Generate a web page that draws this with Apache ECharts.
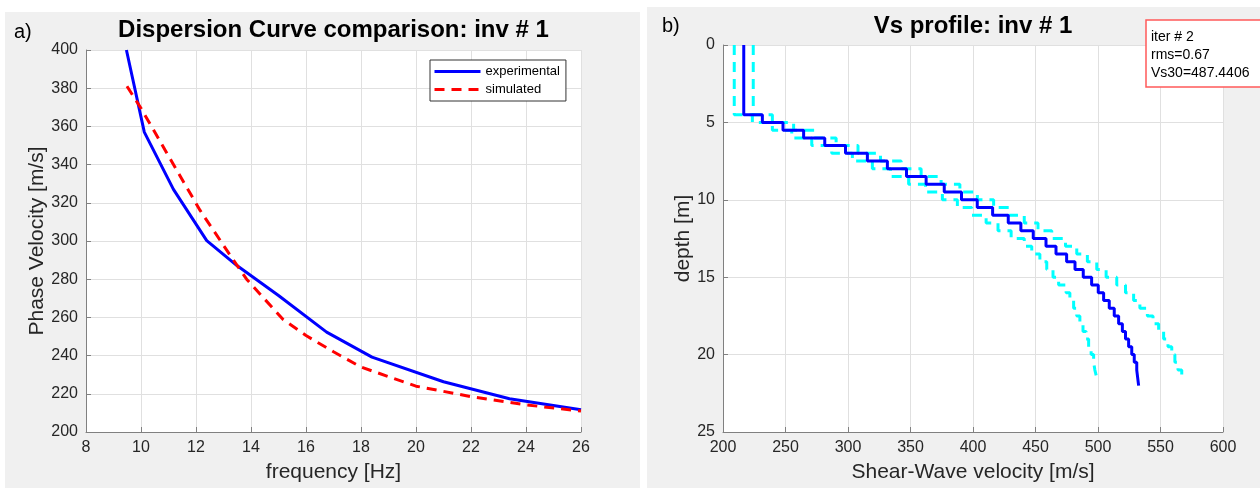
<!DOCTYPE html>
<html><head><meta charset="utf-8">
<script src="https://cdn.jsdelivr.net/npm/echarts@6/dist/echarts.min.js"></script>
<style>html,body{margin:0;padding:0;background:#fff}#c{width:1260px;height:488px}</style>
</head><body><div id="c"></div>
<script>
// ---- Panel a) dispersion curves ----
const freqTicks = [8, 10, 12, 14, 16, 18, 20, 22, 24, 26];
const velTicks = [200, 220, 240, 260, 280, 300, 320, 340, 360, 380, 400];
const expFreq = [9.47, 10.12, 11.18, 12.39, 13.5, 15.0, 16.75, 18.4, 21.0, 23.4, 26.0];
const expVel  = [400, 357, 327, 300.2, 287, 271.5, 252.3, 239.2, 226.3, 217.4, 211.7];
const simFreq = [9.49, 10.0, 10.9, 12.15, 13.36, 13.84, 15.16, 16.0, 17.0, 18.0, 20.0, 22.0, 24.0, 26.0];
const simVel  = [381, 369.5, 347, 316, 290, 280, 259, 250.5, 242, 234, 224, 218.5, 214.2, 211];

// ---- Panel b) Vs profile ----
const vsTicks = [200, 250, 300, 350, 400, 450, 500, 550, 600];
const depthTicks = [0, 5, 10, 15, 20, 25];
const layerDepth = [0,4.5,5,5.5,6,6.5,7,7.5,8,8.5,9,9.5,10,10.5,11,11.5,12,12.5,13,13.5,14,14.5,15,15.5,16,16.5,17,17.5,18,18.5,19,19.5,20,20.5,21,22];
const boundDepth = [0,4.5,5,5.5,6,6.5,7,7.5,8,8.5,9,9.5,10,10.5,11,11.5,12,12.5,13,13.5,14,14.5,15,15.5,16,16.5,17,17.5,18,18.5,19,19.5,20,20.5,21,21.5];
const vsBest = [216.6,231.5,248,264.5,281.4,298,315.5,331.5,346.8,362.5,377,390.8,403.4,415.7,428.2,438.3,448.2,458.4,466.4,474.9,481.6,488.2,494.9,500.2,504.5,509,513,516.5,519.5,522,524.5,527,529,531,532.5];
const vsLow  = [209,223.5,239.5,255,271,287,303.5,319.5,334,348.5,362,375.5,387.5,399,410.5,420,430.5,441,447,453.5,459,464,468.5,474.5,477.5,480.5,483,485.5,488,490.5,492.5,494.5,496.5,497.5,499];
const vsHigh = [224.2,239.5,256.5,273,290.5,308,326,342.5,358.5,374.5,389.5,403.5,416.5,429,441,452,463,474,483,491.5,499,506.5,515,522,528.5,533.5,539.5,544,548.5,552.5,556,559,561.5,564,567];
const infoLines = ['iter # 2', 'rms=0.67', 'Vs30=487.4406'];

function zip(a, b) { return a.map((v, i) => [v, b[i]]); }
function steps(vs, depth) {
  const pts = [];
  for (let i = 0; i < vs.length; i++) {
    pts.push([vs[i], depth[i]]);
    pts.push([vs[i], depth[i + 1]]);
  }
  return pts;
}

const FONT = '"Liberation Sans", Arial, Helvetica, sans-serif';
const TXT = '#262626';
const AX = '#808080';
const GRIDC = '#e0e0e0';

function axisCommon(ticks, name, gap, extra) {
  return Object.assign({
    type: 'value',
    min: ticks[0], max: ticks[ticks.length - 1], interval: ticks[1] - ticks[0],
    name: name, nameLocation: 'middle', nameGap: gap,
    nameTextStyle: { fontSize: 21, color: TXT, fontFamily: FONT },
    axisLine: { show: true, onZero: false, lineStyle: { color: AX, width: 1 } },
    axisTick: { show: true, inside: true, length: 5, lineStyle: { color: AX } },
    axisLabel: { fontSize: 16, color: TXT, fontFamily: FONT, margin: 8 },
    splitLine: { show: true, lineStyle: { color: GRIDC, width: 1 } }
  }, extra || {});
}

const chart = echarts.init(document.getElementById('c'), null, { renderer: 'canvas' });
const graphics = [
  { type: 'rect', z: -10, shape: { x: 5, y: 12, width: 635, height: 476 }, style: { fill: '#f0f0f0' } },
  { type: 'rect', z: -10, shape: { x: 647, y: 7, width: 613, height: 481 }, style: { fill: '#f0f0f0' } },
  { type: 'text', z: 10, x: 333.5, y: 30, style: { text: 'Dispersion Curve comparison: inv # 1', font: 'bold 24px ' + FONT, fill: '#000', align: 'center', verticalAlign: 'middle' } },
  { type: 'text', z: 10, x: 973, y: 26, style: { text: 'Vs profile: inv # 1', font: 'bold 24px ' + FONT, fill: '#000', align: 'center', verticalAlign: 'middle' } },
  { type: 'text', z: 10, x: 14, y: 32, style: { text: 'a)', font: '20px ' + FONT, fill: '#000', align: 'left', verticalAlign: 'middle' } },
  { type: 'text', z: 10, x: 662, y: 26, style: { text: 'b)', font: '20px ' + FONT, fill: '#000', align: 'left', verticalAlign: 'middle' } },
  { type: 'rect', z: 20, shape: { x: 1146, y: 20, width: 120, height: 67 }, style: { fill: '#fff', stroke: '#ff5a5a', lineWidth: 1.5 } }
];
infoLines.forEach((t, i) => graphics.push({ type: 'text', z: 21, x: 1151, y: 37 + i * 18, style: { text: t, font: '14px ' + FONT, fill: '#000', align: 'left', verticalAlign: 'middle' } }));

chart.setOption({
  animation: false,
  textStyle: { fontFamily: FONT },
  grid: [
    { left: 86, top: 50, width: 495, height: 388, show: true, backgroundColor: '#fff', borderWidth: 0 },
    { left: 723, top: 45, width: 500, height: 392, show: true, backgroundColor: '#fff', borderWidth: 0 }
  ],
  xAxis: [
    axisCommon(freqTicks, 'frequency [Hz]', 30, { gridIndex: 0 }),
    axisCommon(vsTicks, 'Shear-Wave velocity [m/s]', 30, { gridIndex: 1 })
  ],
  yAxis: [
    axisCommon(velTicks, 'Phase Velocity [m/s]', 37, { gridIndex: 0 }),
    axisCommon(depthTicks, 'depth [m]', 28, { gridIndex: 1, inverse: true })
  ],
  legend: {
    data: ['experimental', 'simulated'],
    orient: 'vertical', left: 430, top: 60,
    itemWidth: 46, itemHeight: 14, itemGap: 5,
    padding: [5, 6, 5, 3],
    borderColor: '#333', borderWidth: 1, backgroundColor: '#fff',
    itemStyle: { opacity: 0 },
    lineStyle: { width: 3 },
    textStyle: { fontSize: 13, color: '#000', fontFamily: FONT }
  },
  graphic: graphics,
  series: [
    { name: 'experimental', type: 'line', xAxisIndex: 0, yAxisIndex: 0, data: zip(expFreq, expVel), symbol: 'none', showSymbol: false, color: '#0000ff', lineStyle: { width: 3, color: '#0000ff' }, z: 5 },
    { name: 'simulated', type: 'line', xAxisIndex: 0, yAxisIndex: 0, data: zip(simFreq, simVel), symbol: 'none', showSymbol: false, color: '#ff0000', lineStyle: { width: 3, color: '#ff0000', type: [10, 7] }, z: 6 },
    { name: 'low', type: 'line', xAxisIndex: 1, yAxisIndex: 1, data: steps(vsLow, boundDepth), symbol: 'none', lineStyle: { width: 3, color: '#00ffff', type: [10, 7] }, z: 4 },
    { name: 'high', type: 'line', xAxisIndex: 1, yAxisIndex: 1, data: steps(vsHigh, boundDepth), symbol: 'none', lineStyle: { width: 3, color: '#00ffff', type: [10, 7] }, z: 4 },
    { name: 'best', type: 'line', xAxisIndex: 1, yAxisIndex: 1, data: steps(vsBest, layerDepth), symbol: 'none', lineStyle: { width: 3, color: '#0000ff' }, z: 5 }
  ]
});
</script></body></html>
